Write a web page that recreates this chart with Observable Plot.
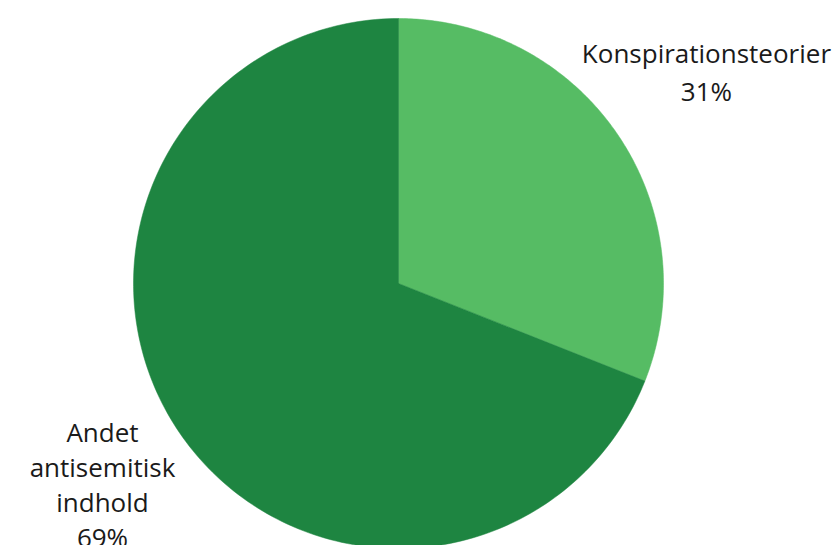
<!DOCTYPE html>
<html><head><meta charset="utf-8">
<script src="https://cdn.jsdelivr.net/npm/d3@7"></script>
<script src="https://cdn.jsdelivr.net/npm/@observablehq/plot@0.6"></script>
<style>body{margin:0;background:#fff;font-family:"Open Sans",sans-serif}</style>
</head><body><div id="chart"></div>
<script>
const categories = ["Konspirationsteorier", "Andet antisemitisk indhold"];
const values = [31, 69];
const labels = ["Konspirationsteorier\n31%", "Andet\nantisemitisk\nindhold\n69%"];
const colors = ["#56bc64", "#1e8541"];

const pie = d3.pie().sort(null).value(d => d)(values);
const pts = [];
pie.forEach((s, i) => {
  const n = 200;
  pts.push({cat: categories[i], x: 0, y: 0});
  for (let k = 0; k <= n; k++) {
    const a = s.startAngle + (s.endAngle - s.startAngle) * k / n;
    pts.push({cat: categories[i], x: Math.sin(a), y: Math.cos(a)});
  }
  pts.push({cat: categories[i], x: 0, y: 0});
});
const labelPos = [
  {text: labels[0], x: 1.162, y: 0.805},
  {text: labels[1], x: -1.117, y: -0.755}
];
const W = 836, H = 545, R = 265, cx = 398, cy = 283;
const chart = Plot.plot({
  width: W, height: H, margin: 0,
  x: {domain: [-cx / R, (W - cx) / R], axis: null},
  y: {domain: [-(H - cy) / R, cy / R], axis: null},
  color: {domain: categories, range: colors},
  style: {fontFamily: "'Open Sans', sans-serif"},
  marks: [
    Plot.line(pts, {x: "x", y: "y", z: "cat", fill: "cat", stroke: "cat", strokeWidth: 0.5, curve: "linear"}),
    Plot.text([labelPos[0]], {x: "x", y: "y", text: "text", fontSize: 26, lineHeight: 1.46, fill: "#1a1a1a"}),
    Plot.text([labelPos[1]], {x: "x", y: "y", text: "text", fontSize: 26, lineHeight: 1.35, fill: "#1a1a1a"})
  ]
});
document.getElementById("chart").appendChild(chart);
</script></body></html>
